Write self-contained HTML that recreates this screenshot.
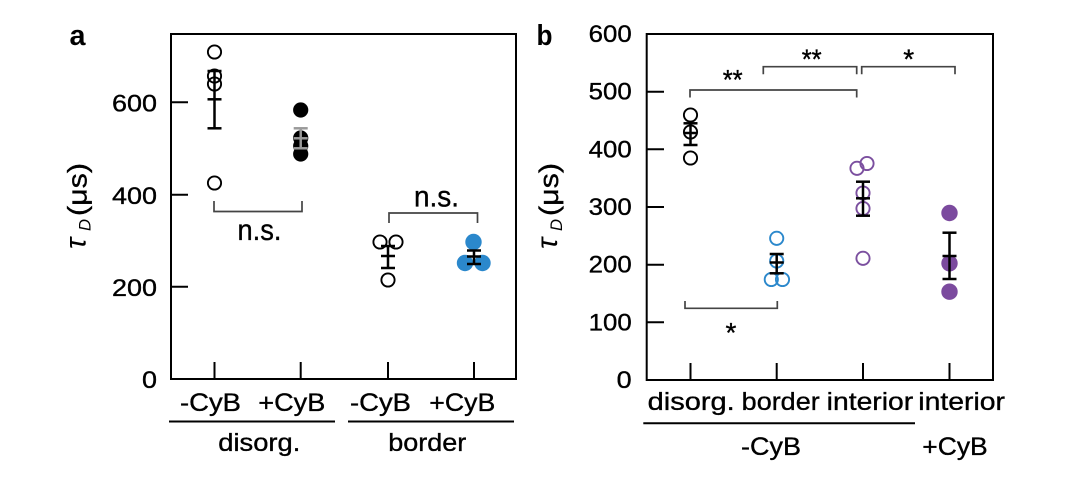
<!DOCTYPE html>
<html>
<head>
<meta charset="utf-8">
<style>
  html,body{margin:0;padding:0;background:#fff;}
  body{width:1078px;height:477px;overflow:hidden;}
  svg{display:block;}
  text{font-family:"Liberation Sans",Arial,sans-serif;fill:#000;}
  .t{stroke:#000;stroke-width:0.35px;}
</style>
</head>
<body>
<svg width="1078" height="477" viewBox="0 0 1078 477" xmlns="http://www.w3.org/2000/svg">
  <rect width="1078" height="477" fill="#fff"/>

  <!-- ================= PANEL A ================= -->
  <text x="69.5" y="45" font-size="29" font-weight="bold" textLength="16" lengthAdjust="spacingAndGlyphs">a</text>

  <rect x="171" y="34" width="345" height="345" fill="none" stroke="#000" stroke-width="2"/>
  <g stroke="#000" stroke-width="2">
    <line x1="171" y1="102.3" x2="188" y2="102.3"/>
    <line x1="171" y1="194.7" x2="188" y2="194.7"/>
    <line x1="171" y1="286.7" x2="188" y2="286.7"/>
    <line x1="214.5" y1="362" x2="214.5" y2="379"/>
    <line x1="300.7" y1="362" x2="300.7" y2="379"/>
    <line x1="388" y1="362" x2="388" y2="379"/>
    <line x1="474" y1="362" x2="474" y2="379"/>
  </g>
  <g font-size="24" text-anchor="end" class="t">
    <text x="157" y="111.5" textLength="45" lengthAdjust="spacingAndGlyphs">600</text>
    <text x="157" y="203.8" textLength="45" lengthAdjust="spacingAndGlyphs">400</text>
    <text x="157" y="295.8" textLength="45" lengthAdjust="spacingAndGlyphs">200</text>
    <text x="157" y="388.2" textLength="15" lengthAdjust="spacingAndGlyphs">0</text>
  </g>
  <g transform="translate(85.5,250) rotate(-90)">
    <text x="1" y="0" font-family="Liberation Serif, serif" font-style="italic" font-weight="normal" font-size="30">τ</text>
    <text x="19" y="5" font-family="Liberation Serif, serif" font-style="italic" font-size="17" textLength="12" lengthAdjust="spacingAndGlyphs">D</text>
    <text x="34" y="1" font-size="27" textLength="53" lengthAdjust="spacingAndGlyphs" class="t">(μs)</text>
  </g>
  <g font-size="25" class="t">
    <text x="180" y="411" textLength="61" lengthAdjust="spacingAndGlyphs">-CyB</text>
    <text x="258.3" y="411" textLength="67" lengthAdjust="spacingAndGlyphs">+CyB</text>
    <text x="350" y="411" textLength="61" lengthAdjust="spacingAndGlyphs">-CyB</text>
    <text x="429.3" y="411" textLength="66" lengthAdjust="spacingAndGlyphs">+CyB</text>
    <text x="218.3" y="451" textLength="82" lengthAdjust="spacingAndGlyphs">disorg.</text>
    <text x="388.3" y="451" textLength="78" lengthAdjust="spacingAndGlyphs">border</text>
  </g>
  <g stroke="#000" stroke-width="2">
    <line x1="169" y1="421.5" x2="335" y2="421.5"/>
    <line x1="348" y1="421.5" x2="514" y2="421.5"/>
  </g>

  <g stroke="#444" stroke-width="1.7" fill="none">
    <polyline points="214,201 214,211.5 302,211.5 302,201"/>
    <polyline points="389,223 389,213 477.5,213 477.5,223"/>
  </g>
  <text x="237.5" y="240" font-size="30" textLength="44" lengthAdjust="spacingAndGlyphs" class="t">n.s.</text>
  <text x="414" y="206.7" font-size="30" textLength="45" lengthAdjust="spacingAndGlyphs" class="t">n.s.</text>

  <g fill="none" stroke="#000" stroke-width="1.9">
    <circle cx="214.5" cy="52" r="6.6"/>
    <circle cx="214.5" cy="76" r="6.6"/>
    <circle cx="214.5" cy="84" r="6.6"/>
    <circle cx="214.5" cy="183" r="6.6"/>
  </g>
  <g stroke="#000" stroke-width="2.5">
    <line x1="214.5" y1="71" x2="214.5" y2="128.3"/>
    <line x1="207.5" y1="71" x2="221.5" y2="71"/>
    <line x1="207.5" y1="99.3" x2="221.5" y2="99.3"/>
    <line x1="207.5" y1="128.3" x2="221.5" y2="128.3"/>
  </g>
  <g fill="#000">
    <circle cx="300.7" cy="110" r="7.6"/>
    <circle cx="300.7" cy="138" r="7.6"/>
    <circle cx="300.7" cy="146" r="7.6"/>
    <circle cx="300.7" cy="154" r="7.6"/>
  </g>
  <g stroke="#9a9a9a" stroke-width="2.5">
    <line x1="300.7" y1="128.3" x2="300.7" y2="148.3"/>
    <line x1="293.7" y1="128.3" x2="307.7" y2="128.3"/>
    <line x1="293.7" y1="138.3" x2="307.7" y2="138.3"/>
    <line x1="293.7" y1="148.3" x2="307.7" y2="148.3"/>
  </g>
  <g fill="none" stroke="#000" stroke-width="1.9">
    <circle cx="380" cy="242" r="6.6"/>
    <circle cx="396" cy="242" r="6.6"/>
    <circle cx="388" cy="280" r="6.6"/>
  </g>
  <g stroke="#000" stroke-width="2.5">
    <line x1="388" y1="246" x2="388" y2="268"/>
    <line x1="381" y1="246" x2="395" y2="246"/>
    <line x1="381" y1="256" x2="395" y2="256"/>
    <line x1="381" y1="268" x2="395" y2="268"/>
  </g>
  <g fill="#2b88cc">
    <circle cx="473.5" cy="242" r="8.2"/>
    <circle cx="465" cy="263" r="8.2"/>
    <circle cx="482.5" cy="263" r="8.2"/>
  </g>
  <g stroke="#000" stroke-width="2.5">
    <line x1="474" y1="250.5" x2="474" y2="264"/>
    <line x1="467" y1="250.5" x2="481" y2="250.5"/>
    <line x1="467" y1="256.5" x2="481" y2="256.5"/>
    <line x1="467" y1="264" x2="481" y2="264"/>
  </g>

  <!-- ================= PANEL B ================= -->
  <text x="536.5" y="45" font-size="29" font-weight="bold" textLength="16" lengthAdjust="spacingAndGlyphs">b</text>

  <rect x="646.7" y="34" width="346.3" height="346" fill="none" stroke="#000" stroke-width="2"/>
  <g stroke="#000" stroke-width="2">
    <line x1="646.7" y1="91.7" x2="664" y2="91.7"/>
    <line x1="646.7" y1="149.3" x2="664" y2="149.3"/>
    <line x1="646.7" y1="207" x2="664" y2="207"/>
    <line x1="646.7" y1="264.7" x2="664" y2="264.7"/>
    <line x1="646.7" y1="322.3" x2="664" y2="322.3"/>
    <line x1="690.5" y1="363" x2="690.5" y2="380"/>
    <line x1="776.7" y1="363" x2="776.7" y2="380"/>
    <line x1="863" y1="363" x2="863" y2="380"/>
    <line x1="949.5" y1="363" x2="949.5" y2="380"/>
  </g>
  <g font-size="24" text-anchor="end" class="t">
    <text x="631.7" y="42" textLength="43" lengthAdjust="spacingAndGlyphs">600</text>
    <text x="631.7" y="99.7" textLength="43" lengthAdjust="spacingAndGlyphs">500</text>
    <text x="631.7" y="157.3" textLength="43" lengthAdjust="spacingAndGlyphs">400</text>
    <text x="631.7" y="215" textLength="43" lengthAdjust="spacingAndGlyphs">300</text>
    <text x="631.7" y="272.7" textLength="43" lengthAdjust="spacingAndGlyphs">200</text>
    <text x="631.7" y="330.3" textLength="43" lengthAdjust="spacingAndGlyphs">100</text>
    <text x="631.7" y="388" textLength="15" lengthAdjust="spacingAndGlyphs">0</text>
  </g>
  <g transform="translate(557,250) rotate(-90)">
    <text x="1" y="0" font-family="Liberation Serif, serif" font-style="italic" font-weight="normal" font-size="30">τ</text>
    <text x="19" y="5" font-family="Liberation Serif, serif" font-style="italic" font-size="17" textLength="12" lengthAdjust="spacingAndGlyphs">D</text>
    <text x="34" y="1" font-size="27" textLength="53" lengthAdjust="spacingAndGlyphs" class="t">(μs)</text>
  </g>
  <g font-size="25" class="t">
    <text x="647.7" y="410" textLength="87" lengthAdjust="spacingAndGlyphs">disorg.</text>
    <text x="741.7" y="410" textLength="78" lengthAdjust="spacingAndGlyphs">border</text>
    <text x="826.7" y="410" textLength="86.5" lengthAdjust="spacingAndGlyphs">interior</text>
    <text x="918.3" y="410" textLength="86.7" lengthAdjust="spacingAndGlyphs">interior</text>
    <text x="741" y="455" textLength="60" lengthAdjust="spacingAndGlyphs">-CyB</text>
    <text x="922.3" y="455" textLength="65.4" lengthAdjust="spacingAndGlyphs">+CyB</text>
  </g>
  <line x1="643.3" y1="423.3" x2="915" y2="423.3" stroke="#000" stroke-width="2"/>

  <g stroke="#444" stroke-width="1.7" fill="none">
    <polyline points="690,97.5 690,90 856.7,90 856.7,97.5"/>
    <polyline points="763.3,74.3 763.3,66.7 856.7,66.7 856.7,74.3"/>
    <polyline points="861.7,74.3 861.7,66.7 955,66.7 955,74.3"/>
    <polyline points="685,301 685,308.3 777.3,308.3 777.3,301"/>
  </g>
  <g font-size="28" text-anchor="middle" class="t">
    <text x="732.7" y="89" textLength="20" lengthAdjust="spacingAndGlyphs">**</text>
    <text x="811.7" y="68.5" textLength="20" lengthAdjust="spacingAndGlyphs">**</text>
    <text x="908.7" y="68.5">*</text>
    <text x="731" y="342">*</text>
  </g>

  <g fill="none" stroke="#000" stroke-width="1.9">
    <circle cx="690.5" cy="115" r="6.6"/>
    <circle cx="690.5" cy="132" r="6.6"/>
    <circle cx="690.5" cy="158" r="6.6"/>
  </g>
  <g stroke="#000" stroke-width="2.5">
    <line x1="690.5" y1="123.3" x2="690.5" y2="145"/>
    <line x1="683.5" y1="123.3" x2="697.5" y2="123.3"/>
    <line x1="683.5" y1="133" x2="697.5" y2="133"/>
    <line x1="683.5" y1="145" x2="697.5" y2="145"/>
  </g>
  <g fill="none" stroke="#2b88cc" stroke-width="1.9">
    <circle cx="776.7" cy="238.3" r="6.6"/>
    <circle cx="776.7" cy="261" r="6.6"/>
    <circle cx="771.3" cy="279.5" r="6.6"/>
    <circle cx="782.5" cy="279.5" r="6.6"/>
  </g>
  <g stroke="#000" stroke-width="2.5">
    <line x1="776.7" y1="254" x2="776.7" y2="273.3"/>
    <line x1="769.7" y1="254" x2="783.7" y2="254"/>
    <line x1="769.7" y1="262.5" x2="783.7" y2="262.5"/>
    <line x1="769.7" y1="273.3" x2="783.7" y2="273.3"/>
  </g>
  <g fill="none" stroke="#7b4f9f" stroke-width="1.9">
    <circle cx="857" cy="168.3" r="6.6"/>
    <circle cx="867" cy="163.5" r="6.6"/>
    <circle cx="863" cy="193" r="6.6"/>
    <circle cx="863" cy="208.5" r="6.6"/>
    <circle cx="863" cy="258.3" r="6.6"/>
  </g>
  <g stroke="#000" stroke-width="2.5">
    <line x1="863" y1="181.7" x2="863" y2="215.7"/>
    <line x1="856" y1="181.7" x2="870" y2="181.7"/>
    <line x1="856" y1="198.3" x2="870" y2="198.3"/>
    <line x1="856" y1="215.7" x2="870" y2="215.7"/>
  </g>
  <g fill="#7b4a9e">
    <circle cx="949.5" cy="213" r="8.2"/>
    <circle cx="949.5" cy="263.3" r="8.2"/>
    <circle cx="949.5" cy="291.7" r="8.2"/>
  </g>
  <g stroke="#000" stroke-width="2.5">
    <line x1="949.5" y1="232.7" x2="949.5" y2="279"/>
    <line x1="942.5" y1="232.7" x2="956.5" y2="232.7"/>
    <line x1="942.5" y1="256" x2="956.5" y2="256"/>
    <line x1="942.5" y1="279" x2="956.5" y2="279"/>
  </g>
</svg>
</body>
</html>
